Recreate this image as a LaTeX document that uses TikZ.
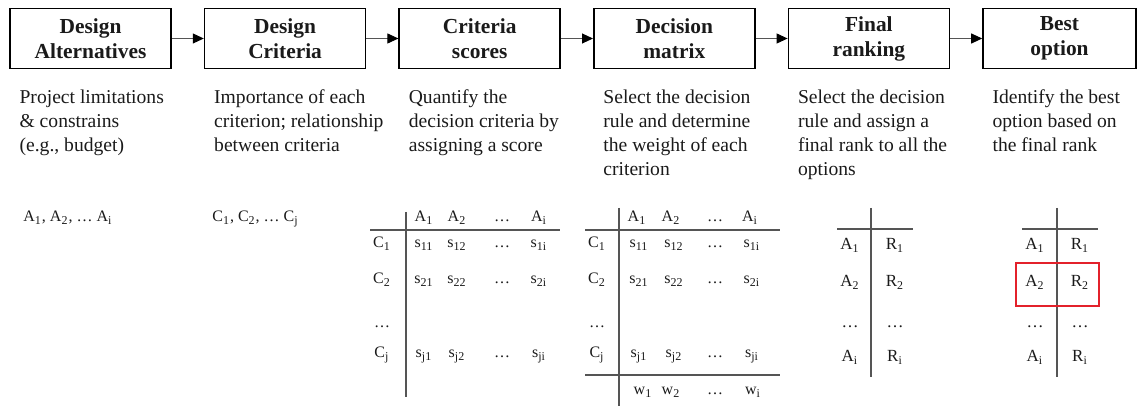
\documentclass[tikz,border=0pt]{standalone}
\usepackage{fontspec}
\setmainfont{Liberation Serif}
\usepackage{xcolor}
\usepackage{tikz}
\usetikzlibrary{arrows.meta, positioning}
\definecolor{ink}{HTML}{1A1A1A}
\definecolor{rulegray}{HTML}{555555}
\definecolor{pick}{HTML}{E3212B}
\newcommand{\sub}[1]{\textsubscript{#1}}

\begin{document}
\begin{tikzpicture}[
    x=0.5pt, y=-0.5pt,
    node distance=1cm and 16pt,
    every node/.style={text=ink},
    stage/.style={rectangle, draw=black, line width=0.8pt,
                  minimum width=80.5pt, minimum height=30pt,
                  align=center, inner sep=2pt,
                  font=\fontsize{10.7}{12.5}\selectfont\bfseries},
    note/.style={align=left, inner sep=0pt,
                 font=\fontsize{9.8}{12}\selectfont},
    arrow/.style={-{Triangle[length=5.5pt, width=5pt, color=black]},
                  line width=0.5pt, draw=rulegray},
    cell/.style={anchor=base, inner sep=0pt, font=\fontsize{8}{10}\selectfont},
    rcell/.style={cell, font=\fontsize{8.5}{10}\selectfont},
    tabline/.style={draw=rulegray, line width=0.6pt}
]
\useasboundingbox (0,0) rectangle (1137,406);

% Stages
\node[stage] (alt) at (90.5,38.5) {Design\\Alternatives};
\node[stage, right=of alt] (crit) {Design\\Criteria};
\node[stage, right=of crit] (score) {Criteria\\scores};
\node[stage, right=of score] (matrix) {Decision\\matrix};
\node[stage, right=of matrix] (rank) {Final\\ranking};
\node[stage, right=of rank, minimum width=76.5pt] (best) {Best\\option};

% Arrows
\draw[arrow] (alt) -- (crit);
\draw[arrow] (crit) -- (score);
\draw[arrow] (score) -- (matrix);
\draw[arrow] (matrix) -- (rank);
\draw[arrow] (rank) -- (best);

% Notes
\node[note, below right=10pt and 5pt of alt.south west] (altnote)
    {Project limitations\\\& constrains\\(e.g., budget)};
\node[note, below right=10pt and 5pt of crit.south west] (critnote)
    {Importance of each\\criterion; relationship\\between criteria};
\node[note, below right=10pt and 5pt of score.south west] (scorenote)
    {Quantify the\\decision criteria by\\assigning a score};
\node[note, below right=10pt and 5pt of matrix.south west] (matrixnote)
    {Select the decision\\rule and determine\\the weight of each\\criterion};
\node[note, below right=10pt and 5pt of rank.south west] (ranknote)
    {Select the decision\\rule and assign a\\final rank to all the\\options};
\node[note, below right=10pt and 5pt of best.south west] (bestnote)
    {Identify the best\\option based on\\the final rank};

% Lists
\node[cell, anchor=base west] (altlist) at (23,222)
    {A\sub1, A\sub2, \dots\ A\sub{i}};
\node[cell, anchor=base west] (critlist) at (212,222)
    {C\sub1, C\sub2, \dots\ C\sub{j}};

% Criteria scores table
\node[cell] (cs-0-1) at (424,222) {A\sub1};
\node[cell] (cs-0-2) at (457,222) {A\sub2};
\node[cell] (cs-0-3) at (502,222) {\dots};
\node[cell] (cs-0-4) at (539,222) {A\sub{i}};
\foreach \y/\r in {248/1, 284/2, 358/j} {
  \node[cell] (cs-\r-0) at (382,\y) {C\sub{\r}};
  \node[cell] (cs-\r-1) at (424,\y) {s\sub{\r1}};
  \node[cell] (cs-\r-2) at (457,\y) {s\sub{\r2}};
  \node[cell] (cs-\r-3) at (502,\y) {\dots};
  \node[cell] (cs-\r-4) at (539,\y) {s\sub{\r i}};
}
\node[cell] (cs-dots) at (382,328) {\dots};
\draw[tabline] (406,212) -- (406,397);
\draw[tabline] (370,230) -- (560,230);

% Decision matrix table
\node[cell] (dm-0-1) at (637,222) {A\sub1};
\node[cell] (dm-0-2) at (671,222) {A\sub2};
\node[cell] (dm-0-3) at (715,222) {\dots};
\node[cell] (dm-0-4) at (750,222) {A\sub{i}};
\foreach \y/\r in {248/1, 284/2, 358/j} {
  \node[cell] (dm-\r-0) at (597,\y) {C\sub{\r}};
  \node[cell] (dm-\r-1) at (639,\y) {s\sub{\r1}};
  \node[cell] (dm-\r-2) at (674,\y) {s\sub{\r2}};
  \node[cell] (dm-\r-3) at (715,\y) {\dots};
  \node[cell] (dm-\r-4) at (752,\y) {s\sub{\r i}};
}
\node[cell] (dm-dots) at (597,328) {\dots};
\node[cell] (dm-w-1) at (643,395) {w\sub1};
\node[cell] (dm-w-2) at (671,395) {w\sub2};
\node[cell] (dm-w-3) at (715,395) {\dots};
\node[cell] (dm-w-4) at (753,395) {w\sub{i}};
\draw[tabline] (619,208) -- (619,406);
\draw[tabline] (585,230) -- (780,230);
\draw[tabline] (585,375) -- (780,375);

% Final ranking table
\foreach \y/\r in {250/1, 287/2, 362/i} {
  \node[rcell] (fr-\r-1) at (850,\y) {A\sub{\r}};
  \node[rcell] (fr-\r-2) at (895,\y) {R\sub{\r}};
}
\node[rcell] (fr-dots-1) at (850,328) {\dots};
\node[rcell] (fr-dots-2) at (895,328) {\dots};
\draw[tabline] (871,208) -- (871,377);
\draw[tabline] (837,229) -- (913,229);

% Best option table
\foreach \y/\r in {250/1, 287/2, 362/i} {
  \node[rcell] (bo-\r-1) at (1035,\y) {A\sub{\r}};
  \node[rcell] (bo-\r-2) at (1080,\y) {R\sub{\r}};
}
\node[rcell] (bo-dots-1) at (1035,328) {\dots};
\node[rcell] (bo-dots-2) at (1080,328) {\dots};
\draw[tabline] (1057,208) -- (1057,377);
\draw[tabline] (1022,229) -- (1098,229);
\draw[pick, line width=0.9pt] (1016,263) rectangle (1099,306);

\end{tikzpicture}
\end{document}
